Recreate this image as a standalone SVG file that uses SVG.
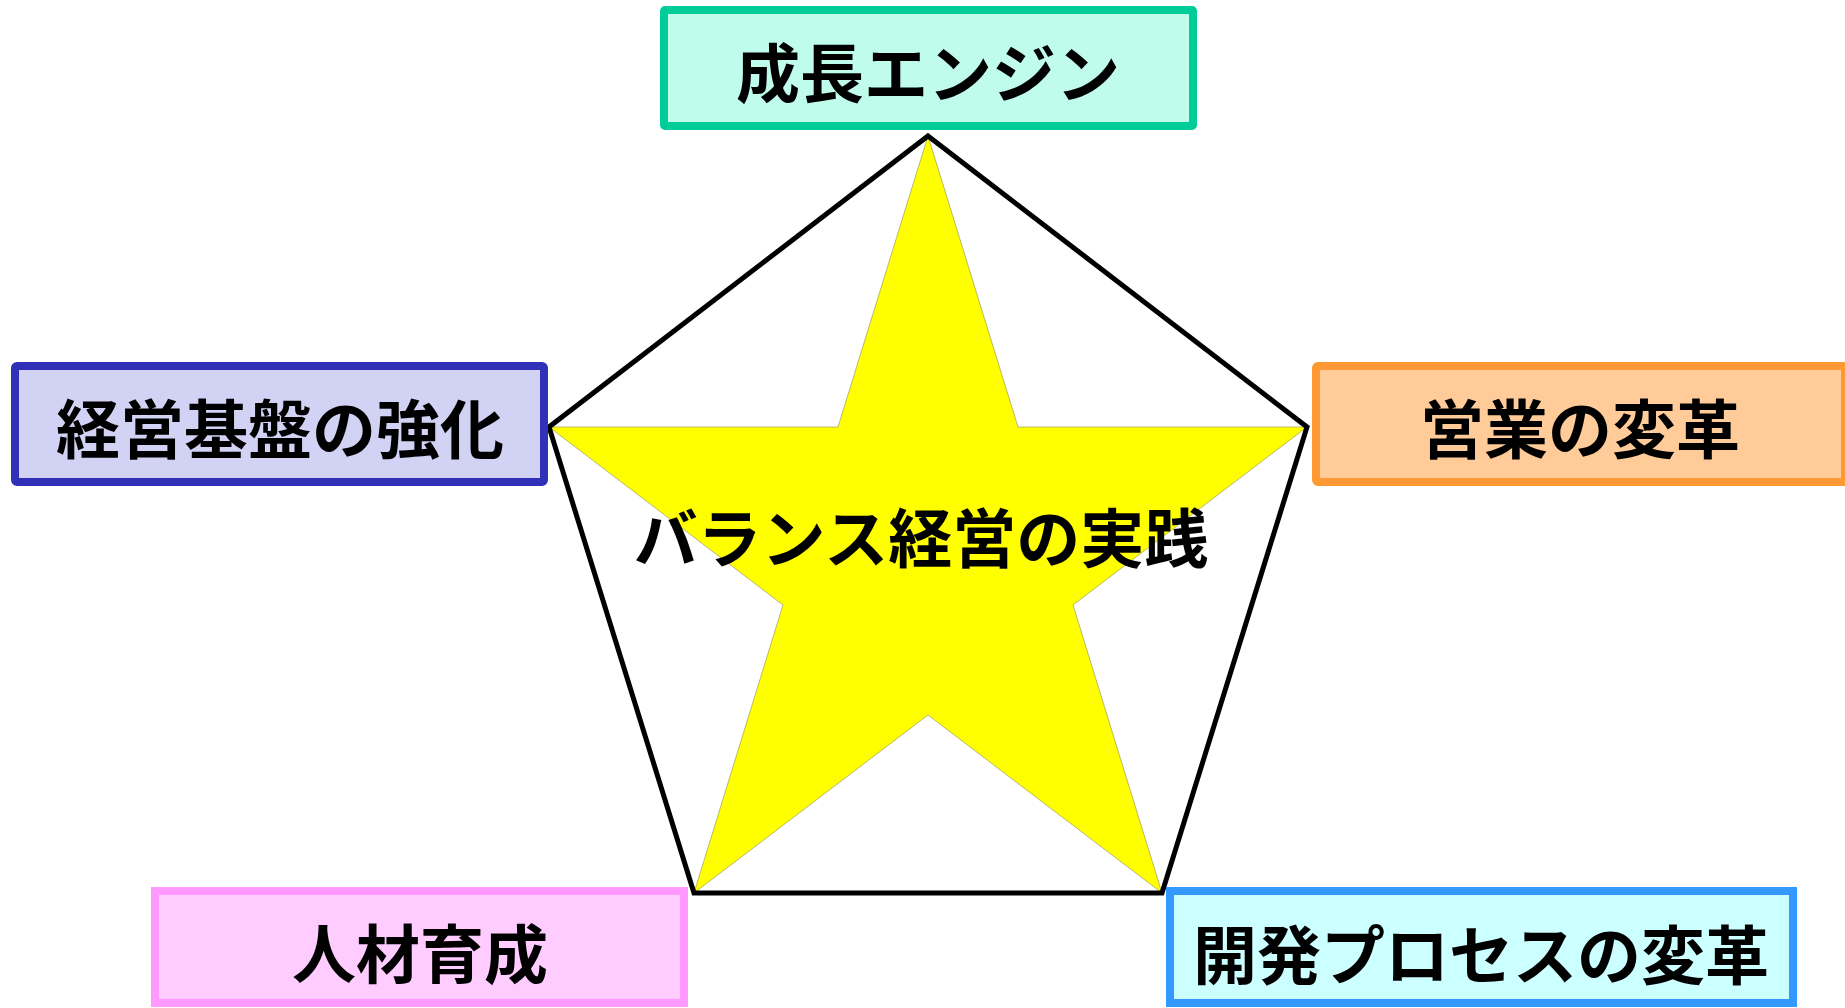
<svg xmlns="http://www.w3.org/2000/svg" width="1845" height="1008" viewBox="0 0 1845 1008">
<style>
.box{stroke-width:8}
.lbl{font-family:"Noto Sans CJK JP","Noto Sans CJK SC",sans-serif;font-weight:700;font-size:64px;fill:#000;text-anchor:middle;dominant-baseline:central}
</style>
<rect width="1845" height="1008" fill="#ffffff"/>
<g id="connectors">
<polygon id="star" points="928,136 1018,427 1307,427 1073,605 1162,893 928,715 694,893 783,605 549,427 838,427" fill="#ffff00" stroke="#a8a860" stroke-width="0.8"/>
<polygon id="pentagon" points="928,136 1307,427 1162,893 694,893 549,427" fill="none" stroke="#000" stroke-width="5" stroke-linejoin="miter"/>
</g>
<g id="center">
<text class="lbl" x="921" y="534">バランス経営の実践</text>
</g>
<g id="n-top">
<rect class="box" x="664" y="10" width="529" height="116" rx="1" fill="#c0fcec" stroke="#00cc99"/>
<text class="lbl" x="928" y="69">成長エンジン</text>
</g>
<g id="n-left">
<rect class="box" x="15" y="366" width="529" height="116" rx="2" fill="#d2d2f4" stroke="#3030b8"/>
<text class="lbl" x="280" y="425">経営基盤の強化</text>
</g>
<g id="n-right">
<rect class="box" x="1316" y="366" width="529" height="116" rx="2" fill="#ffcc99" stroke="#ff9933"/>
<text class="lbl" x="1580" y="425">営業の変革</text>
</g>
<g id="n-bottom-left">
<rect class="box" x="155" y="891" width="529" height="112" fill="#ffccff" stroke="#ff99ff"/>
<text class="lbl" x="420" y="950">人材育成</text>
</g>
<g id="n-bottom-right">
<rect class="box" x="1170" y="891" width="623" height="112" fill="#ccffff" stroke="#3399ff"/>
<text class="lbl" x="1481" y="951">開発プロセスの変革</text>
</g>
</svg>
